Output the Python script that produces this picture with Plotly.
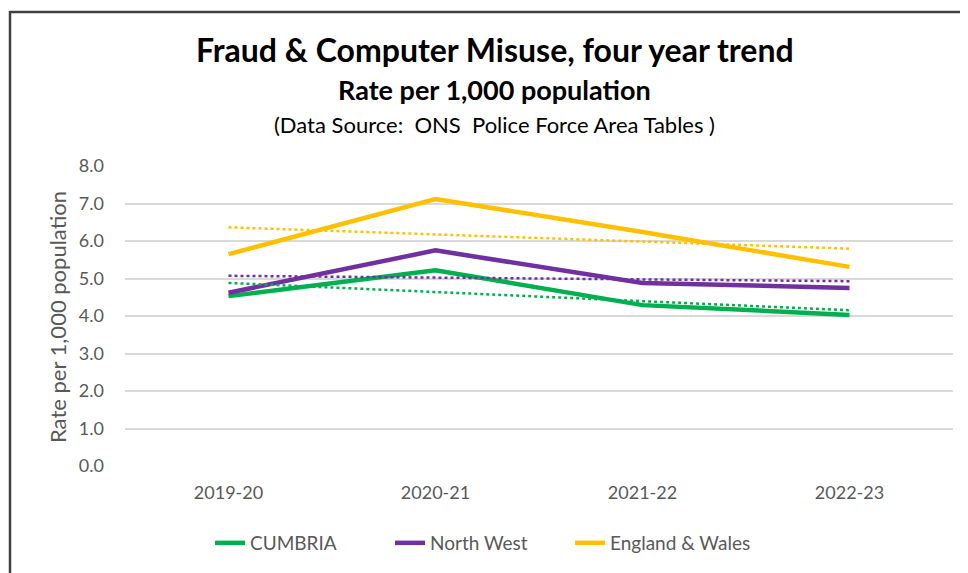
import numpy as np
import plotly.graph_objects as go

years = ["2019-20", "2020-21", "2021-22", "2022-23"]
cumbria = [4.53, 5.22, 4.29, 4.03]
north_west = [4.62, 5.75, 4.88, 4.75]
england_wales = [5.65, 7.12, 6.24, 5.31]

series_names = ["CUMBRIA", "North West", "England & Wales"]
series_colors = ["#00B050", "#7030A0", "#FFC000"]
y_ticks = [0, 1, 2, 3, 4, 5, 6, 7, 8]

FONT = "Lato"
GREY = "#595959"

fig = go.Figure()
xi = np.arange(len(years))
for name, vals, col in zip(series_names, [cumbria, north_west, england_wales], series_colors):
    fig.add_trace(go.Scatter(x=years, y=vals, mode="lines", name=name,
                             line=dict(color=col, width=4.5)))
for name, vals, col in zip(series_names, [cumbria, north_west, england_wales], series_colors):
    m, b = np.polyfit(xi, vals, 1)
    fig.add_trace(go.Scatter(x=years, y=m * xi + b, mode="lines", showlegend=False,
                             hoverinfo="skip",
                             line=dict(color=col, width=2.5, dash="dot")))

# page offset (body margin) of 8px
OFF = 8
W, H = 968, 573
PL, PR, PT, PB = 125, 953, 166, 466   # plot area in page pixels
pw, ph = PR - PL, PB - PT
ml, mt = PL - OFF, PT - OFF
mr, mb = W - ml - pw, H - mt - ph

def px(x):
    return (x - PL) / pw

def py(y):
    return (PB - y) / ph

fig.update_layout(
    width=W, height=H,
    margin=dict(l=ml, r=mr, t=mt, b=mb),
    paper_bgcolor="white", plot_bgcolor="white",
    font=dict(family=FONT, color=GREY, size=18),
    showlegend=True,
    legend=dict(orientation="h", x=px(210), y=py(543), xanchor="left", yanchor="middle",
                font=dict(family=FONT, size=19, color=GREY),
                entrywidth=135, entrywidthmode="pixels",
                tracegroupgap=0, bgcolor="rgba(0,0,0,0)"),
    xaxis=dict(type="category", range=[-0.5, 3.5], showgrid=False, zeroline=False,
               showline=False, ticks="", ticklabelstandoff=14,
               tickfont=dict(family=FONT, size=18, color=GREY)),
    yaxis=dict(range=[0, 8], tickvals=y_ticks, ticktext=[f"{v:.1f}" for v in y_ticks],
               showgrid=True, gridcolor="#D9D9D9", gridwidth=1.5, zeroline=False,
               showline=False, ticks="", ticklabelstandoff=20,
               tickfont=dict(family=FONT, size=18, color=GREY)),
    annotations=[
        dict(text="<b>Fraud & Computer Misuse, four year trend</b>", xref="paper", yref="paper",
             x=px(495), y=py(50), xanchor="center", yanchor="middle", showarrow=False,
             font=dict(family=FONT, size=32, color="#000000")),
        dict(text="<b>Rate per 1,000 population</b>", xref="paper", yref="paper",
             x=px(494), y=py(90), xanchor="center", yanchor="middle", showarrow=False,
             font=dict(family=FONT, size=27, color="#000000")),
        dict(text="(Data Source:  ONS  Police Force Area Tables )", xref="paper", yref="paper",
             x=px(494), y=py(125), xanchor="center", yanchor="middle", showarrow=False,
             font=dict(family=FONT, size=22, color="#000000")),
        dict(text="Rate per 1,000 population", xref="paper", yref="paper",
             x=px(57), y=py(317), xanchor="center", yanchor="middle", showarrow=False,
             textangle=-90, font=dict(family=FONT, size=22, color=GREY)),
    ],
    shapes=[
        dict(type="line", xref="paper", yref="paper", x0=px(10), x1=px(975), y0=py(12), y1=py(12),
             line=dict(color="#404040", width=2.5)),
        dict(type="line", xref="paper", yref="paper", x0=px(10), x1=px(10), y0=py(11), y1=py(590),
             line=dict(color="#404040", width=2.5)),
    ],
)

fig.write_html("out.html")
